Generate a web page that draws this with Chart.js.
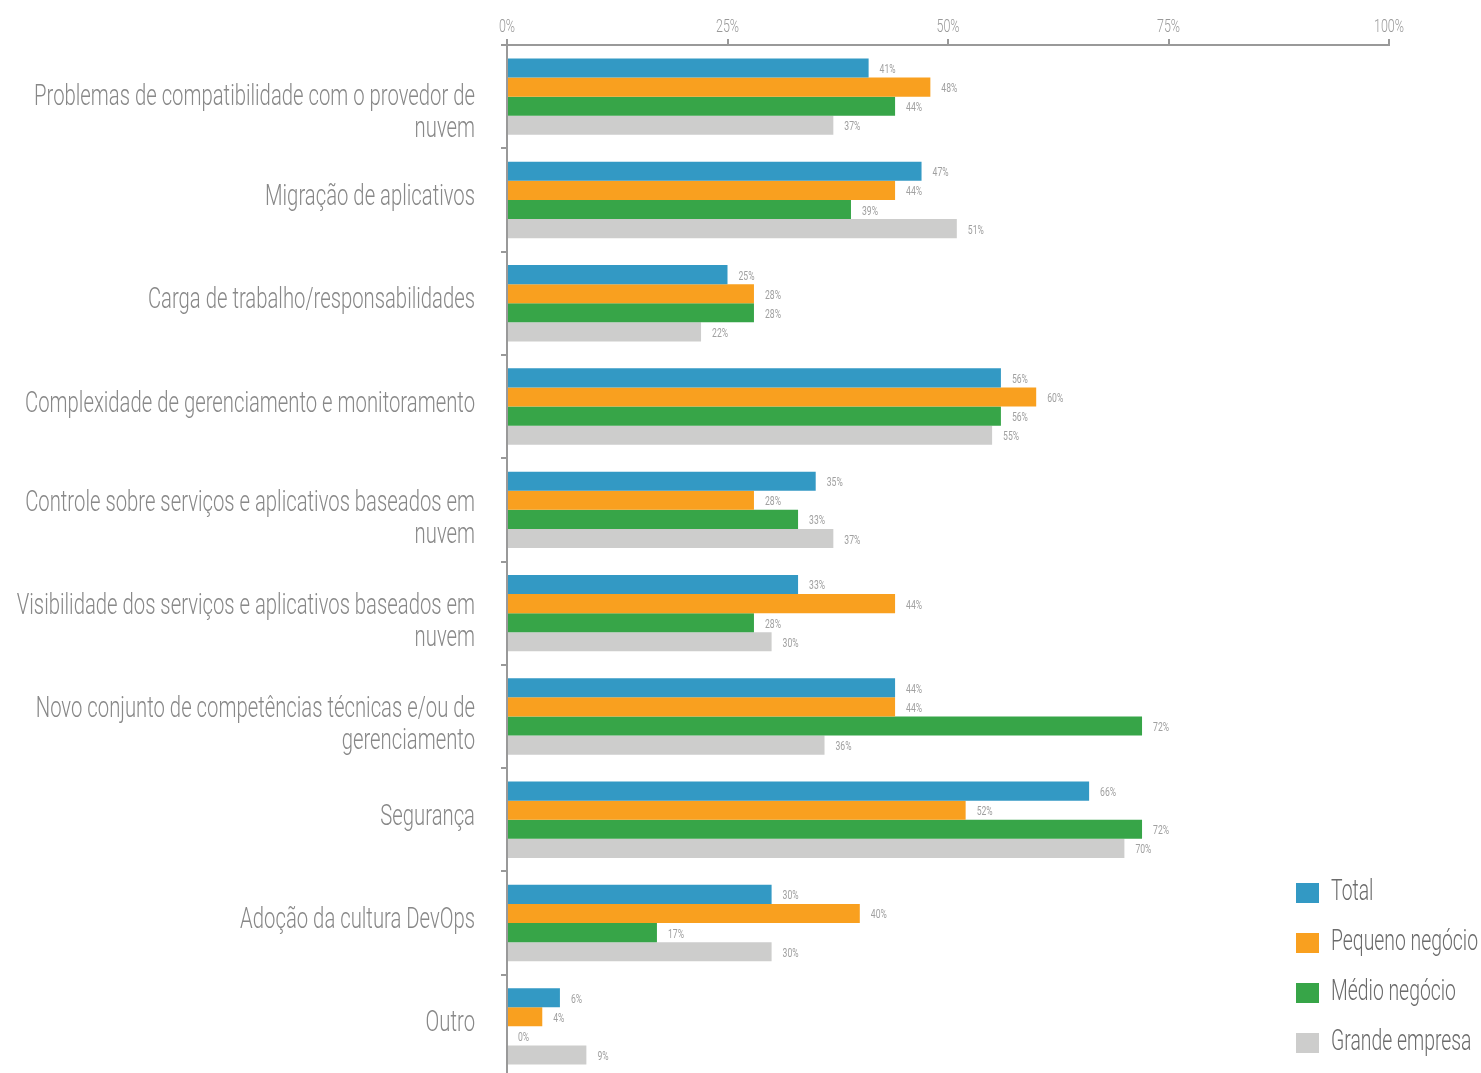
<!DOCTYPE html>
<html>
<head>
<meta charset="utf-8">
<script src="https://cdn.jsdelivr.net/npm/chart.js@4/dist/chart.umd.min.js"></script>
<style>
  html, body { margin: 0; padding: 0; background: #fff; overflow: hidden; }
  #wrap { position: relative; width: 1481px; height: 1080px; }
</style>
</head>
<body>
<div id="wrap">
  <canvas id="c" width="1481" height="1080"></canvas>
</div>
<script>
const categories = [
  ["Problemas de compatibilidade com o provedor de", "nuvem"],
  ["Migração de aplicativos"],
  ["Carga de trabalho/responsabilidades"],
  ["Complexidade de gerenciamento e monitoramento"],
  ["Controle sobre serviços e aplicativos baseados em", "nuvem"],
  ["Visibilidade dos serviços e aplicativos baseados em", "nuvem"],
  ["Novo conjunto de competências técnicas e/ou de", "gerenciamento"],
  ["Segurança"],
  ["Adoção da cultura DevOps"],
  ["Outro"]
];
const seriesNames = ["Total", "Pequeno negócio", "Médio negócio", "Grande empresa"];
const total    = [41, 47, 25, 56, 35, 33, 44, 66, 30, 6];
const pequeno  = [48, 44, 28, 60, 28, 44, 44, 52, 40, 4];
const medio    = [44, 39, 28, 56, 33, 28, 72, 72, 17, 0];
const grande   = [37, 51, 22, 55, 37, 30, 36, 70, 30, 9];
const xTicks   = [0, 25, 50, 75, 100];
const colors   = ["#3399c4", "#f9a01f", "#37a548", "#cdcdcc"];

const FAM = 'Roboto, "Open Sans", "DejaVu Sans", sans-serif';

const values = [total, pequeno, medio, grande];
const datasets = seriesNames.map((n, i) => ({
  label: n,
  data: values[i],
  backgroundColor: colors[i],
  borderWidth: 0,
  barPercentage: 1.0,
  categoryPercentage: 0.74
}));

// horizontal compression factor calibrated so a reference string gets a target width
function calib(ctx, font, sample, target) {
  ctx.save(); ctx.font = font; const w = ctx.measureText(sample).width; ctx.restore();
  return target / w;
}
function drawText(ctx, t, x, y, font, color, align, sx) {
  ctx.save();
  ctx.font = font; ctx.fillStyle = color; ctx.textAlign = align; ctx.textBaseline = 'alphabetic';
  ctx.translate(x, y); ctx.scale(sx, 1);
  ctx.fillText(t, 0, 0);
  ctx.restore();
}

const textPlugin = {
  id: 'textPlugin',
  afterDraw(chart) {
    const ctx = chart.ctx;
    const xs = chart.scales.x, ys = chart.scales.y;
    const catFont = '300 29px ' + FAM;
    const tickFont = '300 18px ' + FAM;
    const valFont = '400 12.5px ' + FAM;
    const legFont = '300 29px ' + FAM;
    const sxCat = calib(ctx, catFont, 'Migração de aplicativos', 210);
    const sxTick = calib(ctx, tickFont, '100%', 30);
    const sxVal = calib(ctx, valFont, '41%', 16);
    const sxLeg = calib(ctx, legFont, 'Pequeno negócio', 147);

    // category labels
    categories.forEach((lines, i) => {
      const yc = ys.getPixelForValue(i);
      if (lines.length === 1) {
        drawText(ctx, lines[0], 475, yc + 5, catFont, '#888888', 'right', sxCat);
      } else {
        const off = i === 0 ? 8 : 1;
        lines.forEach((ln, k) => drawText(ctx, ln, 475, yc + off + k * 32, catFont, '#888888', 'right', sxCat));
      }
    });
    // x tick labels
    xTicks.forEach(v => {
      drawText(ctx, v + '%', xs.getPixelForValue(v), 31.5, tickFont, '#999999', 'center', sxTick);
    });
    // value labels
    chart.data.datasets.forEach((ds, di) => {
      const meta = chart.getDatasetMeta(di);
      meta.data.forEach((bar, j) => {
        drawText(ctx, ds.data[j] + '%', bar.x + 11, bar.y + 5, valFont, '#a0a0a0', 'left', sxVal);
      });
    });
    // legend
    seriesNames.forEach((n, i) => {
      const top = 883 + i * 50;
      ctx.save(); ctx.fillStyle = colors[i]; ctx.fillRect(1296, top, 23, 20); ctx.restore();
      drawText(ctx, n, 1331, top + 17, legFont, '#6b6b6b', 'left', sxLeg);
    });
  }
};

new Chart(document.getElementById('c'), {
  type: 'bar',
  data: { labels: categories.map(c => c.join(' ')), datasets },
  plugins: [textPlugin],
  options: {
    indexAxis: 'y',
    responsive: false,
    animation: false,
    layout: { padding: { left: 0, right: 92, top: 0, bottom: 2 } },
    plugins: { legend: { display: false }, tooltip: { enabled: false } },
    scales: {
      x: {
        position: 'top',
        min: 0, max: 100,
        afterBuildTicks(scale) { scale.ticks = xTicks.map(v => ({ value: v })); },
        afterFit(scale) { scale.height = 45; scale.paddingLeft = 0; scale.paddingRight = 0; },
        ticks: { display: false },
        grid: { drawOnChartArea: false, drawTicks: true, tickLength: 6, tickColor: '#999', lineWidth: 2 },
        border: { display: true, color: '#999', width: 2 }
      },
      y: {
        afterFit(scale) { scale.width = 507; scale.paddingTop = 0; scale.paddingBottom = 0; },
        ticks: { display: false, autoSkip: false },
        grid: { drawOnChartArea: false, drawTicks: true, tickLength: 6, tickColor: '#999', lineWidth: 2, offset: true },
        border: { display: true, color: '#999', width: 2 }
      }
    }
  }
});
</script>
</body>
</html>
